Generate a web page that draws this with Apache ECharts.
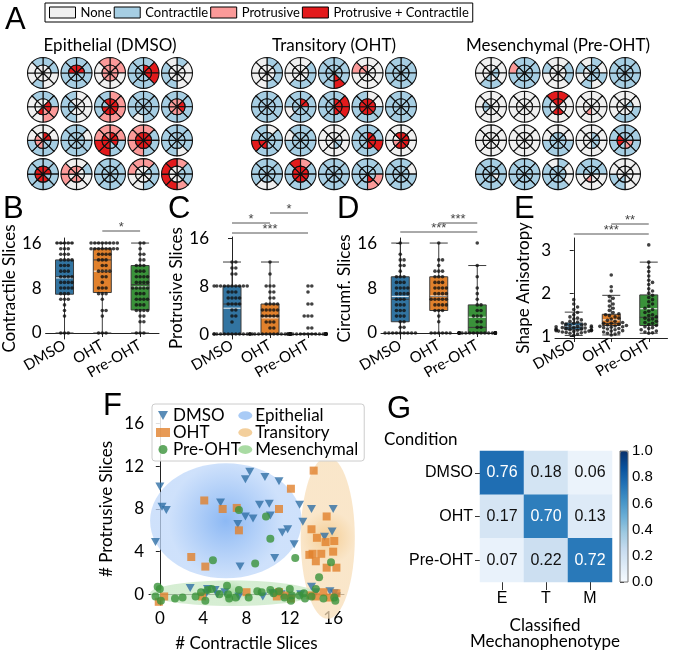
<!DOCTYPE html>
<html><head><meta charset="utf-8">
<script src="https://cdn.jsdelivr.net/npm/echarts@6/dist/echarts.min.js"></script>
<style>html,body{margin:0;padding:0;background:#fff}#c{width:677px;height:654px}</style>
</head><body><div id="c"></div>
<script>
// ================= DATA =================
const sliceCategories = ['None', 'Contractile', 'Protrusive', 'Protrusive + Contractile'];
const glyphTitles = ['Epithelial (DMSO)', 'Transitory (OHT)', 'Mesenchymal (Pre-OHT)'];
// each glyph: 8 outer sectors then 8 inner sectors, clockwise from 12 o'clock
// n = None, c = Contractile, p = Protrusive, b = Protrusive + Contractile
const glyphsEpithelial = [
  'ccnncnnc' + 'nnnnnnnn', 'cccccccc' + 'bbccccbb', 'ppnnnnnp' + 'pppppppp', 'cbbccccc' + 'bbbccccc', 'cnnncccn' + 'nnnnnnnn',
  'ccppnnnc' + 'nbbpbnnn', 'nnnncccc' + 'nnnnnccn', 'pppppccc' + 'bbbbbbcb', 'ccccnccc' + 'cccccccc', 'cccccccc' + 'pbbppppp',
  'nnccccnn' + 'bbccpppn', 'cncccccc' + 'cccccccc', 'ppccbbpp' + 'bbbcbbbp', 'pcccpppp' + 'bbbbbbbb', 'cccncccc' + 'cccccccc',
  'cccccccc' + 'bbcbbbbb', 'ncnnnppn' + 'pnnppnpp', 'cccccccc' + 'cccccccc', 'pcccnnpp' + 'ncnnnnnn', 'pccpbbbb' + 'nccnnnnn'
];
const glyphsTransitory = [
  'ccccnnnn' + 'nnnnnnnn', 'nccccnnn' + 'nnnnnnnn', 'cccbcccc' + 'cccbcccc', 'nnnnnnpn' + 'nnnnnnpp', 'cccccccc' + 'cccccccc',
  'cccccccc' + 'cccccccc', 'cccccncc' + 'bbcccccc', 'cbbccccc' + 'bbbbcccc', 'nncccccc' + 'bbbbbbbb', 'cccccccc' + 'cccccccc',
  'nccccbcc' + 'ccccbbcc', 'ccccccnc' + 'cccccccc', 'nnnnnnnn' + 'nnccnnnn', 'ccbccccc' + 'bbbbcccc', 'nnnnnnnn' + 'bbbbbpnb',
  'cccnnccc' + 'cccccccc', 'pccccccb' + 'bbbbbbbb', 'cccccccc' + 'cccccccc', 'ccppcccc' + 'cccbcccc', 'cncccccc' + 'cccccccc'
];
const glyphsMesenchymal = [
  'nnnccnnn' + 'nccncnnn', 'ccccccpc' + 'cccccccc', 'nccnnncn' + 'nnnnnnnn', 'cncncncn' + 'cccccnnc', 'cccccccc' + 'cccccccc',
  'nnnnnnnn' + 'nnnnnccn', 'nnnnnnnn' + 'nnnnnnnn', 'bnnnnccb' + 'bnnbbnnb', 'nnnnnnnn' + 'nnnnpnnn', 'nncccnnn' + 'ncnnnnnn',
  'nnnnnnnn' + 'nnnnnnnn', 'nnnnnnnn' + 'nnnnnnnn', 'nnccccnn' + 'cccccccc', 'nnnnnnnn' + 'ccccnnnn', 'cccccccc' + 'ccppcbbc',
  'cccccccc' + 'ccnccccc', 'cccccccc' + 'cccccccc', 'cnnccccn' + 'cccccccc', 'ccnnnncc' + 'ccnnpncc', 'nnnnccnn' + 'nnnncnnn'
];

const conditions = ['DMSO', 'OHT', 'Pre-OHT'];

// Box stats [min, Q1, median, Q3, max] and means
const contractileBox = [[0, 6.9, 10, 13, 16], [0, 7.2, 13, 15, 16], [0, 4.1, 8.6, 12, 16]];
const contractileMean = [9.8, 11.0, 8.2];
const contractileDMSO = [0,0,0,3,4,5,6,6,6,7,7,7,8,8,8,8,9,9,9,9,10,10,10,10,11,11,11,12,12,12,13,13,13,13,14,14,14,15,15,15,16,16,16,16,16];
const contractileOHT = [0,0,0,3,4,4,6,7,7,7,8,8,8,9,10,10,11,11,11,11,12,12,13,13,13,14,14,14,14,15,15,15,15,15,15,15,15,16,16,16,16,16,16,16,16];
const contractilePre = [0,0,0,2,2,3,3,4,4,4,4,5,5,5,6,6,6,6,7,7,7,8,8,8,8,8,9,9,9,9,10,10,10,10,11,11,11,12,12,12,13,13,14,14,15,16,16];

const protrusiveBox = [[0, 0, 5, 8, 12], [0, 0, 3, 5, 12], [0, 0, 0, 0, 0]];
const protrusiveMean = [4.3, 2.7, 0.8];
const protrusiveDMSO = [0,0,0,0,0,0,0,0,0,0,0,0,0,0,2,3,3,4,4,5,5,5,5,6,6,6,6,7,7,7,8,8,8,8,8,8,8,8,8,8,10,10,11,11,12,12];
const protrusiveOHT = [0,0,0,0,0,0,0,0,0,0,0,0,1,1,2,2,2,3,3,3,3,3,4,4,4,4,4,5,5,5,5,6,6,7,7,8,8,8,10,12];
const protrusivePre = [0,0,0,0,0,0,0,0,0,0,0,0,0,0,0,0,0,0,0,0,0,0,0,0,0,0,0,0,0,0,0,0,0,1,1,3,3,3,5,5,7,8,8];

const circumfBox = [[0, 2, 6, 10, 16], [0, 4, 6.5, 10, 16], [0, 0, 1, 5, 12]];
const circumfMean = [6.5, 6.6, 2.8];
const circumfDMSO = [0,0,0,0,0,0,0,0,0,1,1,2,2,3,3,3,4,4,4,5,5,5,6,6,6,7,7,7,7,8,8,8,8,9,9,9,10,10,10,11,12,12,13,13,14,16];
const circumfOHT = [0,0,0,0,0,0,2,3,4,4,4,5,5,5,5,6,6,6,6,6,7,7,7,7,8,8,8,8,9,9,9,10,10,10,11,11,11,12,13,13,16];
const circumfPre = [0,0,0,0,0,0,0,0,0,0,0,0,0,0,0,0,0,0,0,0,0,0,0,0,1,1,2,2,3,3,3,4,4,5,5,6,7,8,10,12,16];

const anisoBox = [[1.02, 1.15, 1.2, 1.31, 1.56], [1.03, 1.25, 1.3, 1.51, 1.95], [1.07, 1.25, 1.44, 1.96, 2.72]];
const anisoMean = [1.24, 1.38, 1.64];
const anisoDMSO = [1.02,1.05,1.07,1.08,1.09,1.1,1.1,1.11,1.12,1.12,1.13,1.13,1.14,1.14,1.15,1.15,1.16,1.17,1.17,1.18,1.19,1.2,1.2,1.21,1.22,1.23,1.24,1.25,1.26,1.27,1.28,1.3,1.31,1.33,1.35,1.38,1.4,1.42,1.45,1.5,1.55,1.62,1.68,1.75,1.85];
const anisoOHT = [1.03,1.05,1.07,1.08,1.1,1.12,1.13,1.15,1.17,1.18,1.2,1.21,1.22,1.23,1.24,1.25,1.26,1.28,1.3,1.3,1.32,1.35,1.37,1.4,1.42,1.45,1.48,1.5,1.52,1.55,1.6,1.65,1.7,1.75,1.82,1.88,1.92,2.05,2.15,2.42];
const anisoPre = [1.07,1.08,1.1,1.12,1.15,1.18,1.2,1.22,1.25,1.27,1.3,1.32,1.35,1.38,1.4,1.42,1.45,1.48,1.5,1.55,1.58,1.62,1.65,1.7,1.75,1.8,1.85,1.9,1.95,2.0,2.05,2.1,2.2,2.25,2.3,2.4,2.5,2.6,2.72,3.12];

// significance bars: [fromIndex, toIndex, label, level]
const contractileSig = [[1, 2, '*', 0.3]];
const protrusiveSig = [[0, 2, '***', 0], [0, 1, '*', 1], [1, 2, '*', 2]];
const circumfSig = [[0, 2, '***', 0.2], [1, 2, '***', 1.1]];
const anisoSig = [[0, 2, '***', 0], [1, 2, '**', 1]];

// Panel F scatter: [contractile slices, protrusive slices]
const scatterDMSO = [[0,10.1],[0.2,8.2],[0.6,7.9],[-0.4,4.9],[5.6,8.6],[7.9,10.8],[8.3,11.5],[9.7,11.0],[11.0,10.6],[9.2,8.4],[10.1,8.5],[10.2,7.4],[7.9,7.3],[8.6,7.1],[7.2,6.6],[11.3,5.8],[11.8,6.1],[12.4,4.7],[10.6,3.4],[7.4,2.6],[12.9,8.4],[13.2,6.8],[14.0,8.0],[16.0,8.0],[15.9,5.9],[15.2,5.4],[2.8,0.6],[4.4,0.5],[4.3,0.1],[5.1,0.4],[5.3,0.0],[7.3,-0.2],[9.5,-0.2],[10.4,0.1],[11.2,0.0],[14.0,0.7],[14.4,0.2],[15.7,0.3],[16.1,0.1],[16.3,-0.2],[12.0,-0.3],[6.0,0.2],[13.0,0.0]];
const scatterOHT = [[-0.1,-0.7],[0.4,-0.2],[2.9,3.5],[4.2,2.6],[4.1,8.8],[5.8,8.0],[7.1,8.1],[7.3,6.0],[11.0,8.0],[12.1,9.9],[14.2,11.6],[14.0,6.1],[15.4,7.3],[14.5,5.3],[15.3,4.9],[16.1,5.0],[13.8,3.7],[14.1,3.8],[14.4,3.1],[14.9,3.8],[16.0,4.0],[15.4,2.5],[16.3,2.5],[3.9,-0.2],[8.0,0.2],[11.0,0.2],[11.6,-0.1],[14.4,-0.2],[15.1,0.2],[15.7,-0.3],[16.3,0.1],[13.9,-0.1],[12.1,-0.4],[10.8,-0.2]];
const scatterPre = [[-0.2,0.7],[0,0.5],[-0.4,-0.2],[0.1,-0.6],[1.4,-0.4],[2.1,-0.3],[3.3,-0.2],[3.8,0.2],[4.4,0.4],[4.8,0.5],[4.2,-0.6],[4.9,3.2],[5.5,0.0],[6.2,0.8],[6.3,0.0],[6.4,-0.4],[7.3,7.9],[7.3,0.4],[8.2,-0.3],[8.8,2.9],[9.4,0.2],[9.8,7.3],[10.2,5.2],[10.2,0.4],[10.5,0.1],[11.0,0.3],[12.0,0.5],[12.2,-0.1],[12.1,-0.6],[12.5,3.4],[12.9,-0.1],[13.3,0.1],[13.4,-0.4],[14.4,0.5],[14.7,1.6],[15.1,-0.4],[15.8,3.0],[16.1,-0.3],[16.2,-0.6],[7.0,-0.3],[9.0,0.3],[11.5,-0.3],[14.0,-0.2]];
// phenotype regions: [centre x, centre y, radius x, radius y]
const regionNames = ['Epithelial', 'Transitory', 'Mesenchymal'];
const regionEpithelial = [6.1, 6.9, 7.0, 5.4];
const regionTransitory = [15.5, 5.3, 2.5, 7.6];
const regionMesenchymal = [6.7, 0.1, 7.6, 1.2];
const axisTicksF = [0, 4, 8, 12, 16];

// Panel G confusion matrix
const classLabels = ['E', 'T', 'M'];
const confusion = [[0.76, 0.18, 0.06], [0.17, 0.70, 0.13], [0.07, 0.22, 0.72]];

// ================= STYLE / LAYOUT =================
const MY = 'Lato, "Noto Sans", sans-serif';
const AR = '"Liberation Sans", Arial, sans-serif';
const sliceColors = { n: '#f0f0f0', c: '#a6cee3', p: '#fb9a99', b: '#e31a1c' };
const sliceName = { n: sliceCategories[0], c: sliceCategories[1], p: sliceCategories[2], b: sliceCategories[3] };
const boxColors = ['#3274a1', '#e1812c', '#3a923a'];

const option = {
  animation: false,
  backgroundColor: '#fff',
  grid: [], xAxis: [], yAxis: [], series: [], legend: [], graphic: []
};

// ---------- Panel A glyphs ----------
const glyphSets = [glyphsEpithelial, glyphsTransitory, glyphsMesenchymal];
const panelX0 = [43, 267, 491], stepX = 33.5, rowY0 = 73, stepY = 33.7;
const rIn = 8, rOut = 15.5;
glyphSets.forEach((set, pi) => {
  set.forEach((code, gi) => {
    const cx = panelX0[pi] + (gi % 5) * stepX;
    const cy = rowY0 + Math.floor(gi / 5) * stepY;
    [[code.slice(0, 8), [rIn, rOut]], [code.slice(8), [0, rIn]]].forEach(([ring, radius]) => {
      option.series.push({
        type: 'pie', center: [cx, cy], radius: radius, startAngle: 90, clockwise: true,
        silent: true, label: { show: false }, labelLine: { show: false }, avoidLabelOverlap: false,
        itemStyle: { borderColor: '#111', borderWidth: 1.1 },
        emphasis: { disabled: true },
        data: ring.split('').map(ch => ({ name: sliceName[ch], value: 1, itemStyle: { color: sliceColors[ch] } }))
      });
    });
  });
});
option.legend.push({
  data: sliceCategories, left: 45, top: 3, orient: 'horizontal',
  itemWidth: 26, itemHeight: 11, itemGap: 2, padding: [3, 4, 3, 4],
  borderColor: '#000', borderWidth: 1, selectedMode: false, icon: 'rect',
  itemStyle: { borderColor: '#000', borderWidth: 1 },
  textStyle: { fontFamily: MY, fontSize: 13, color: '#000' }
});
glyphTitles.forEach((t, i) => {
  option.graphic.push({ type: 'text', x: panelX0[i] + 2 * stepX, y: 46,
    style: { text: t, font: '17px ' + MY, fill: '#000', align: 'center', verticalAlign: 'middle' } });
});

// ---------- Panels B–E boxplots ----------
const boxPanels = [
  { grid: { left: 44, top: 238, width: 115, height: 101 }, min: -1.07, max: 16.9, ticks: [0, 8, 16], name: 'Contractile Slices', nameGap: 26,
    box: contractileBox, mean: contractileMean, dots: [contractileDMSO, contractileOHT, contractilePre], sig: contractileSig },
  { grid: { left: 213, top: 237, width: 114, height: 102 }, min: -0.83, max: 16.17, ticks: [0, 8, 16], name: 'Protrusive Slices', nameGap: 25,
    box: protrusiveBox, mean: protrusiveMean, dots: [protrusiveDMSO, protrusiveOHT, protrusivePre], sig: protrusiveSig },
  { grid: { left: 381, top: 238, width: 115.5, height: 101 }, min: -1.07, max: 16.9, ticks: [0, 8, 16], name: 'Circumf. Slices', nameGap: 28,
    box: circumfBox, mean: circumfMean, dots: [circumfDMSO, circumfOHT, circumfPre], sig: circumfSig },
  { grid: { left: 555, top: 238, width: 112.5, height: 100 }, min: 0.96, max: 3.28, ticks: [1, 2, 3], name: 'Shape Anisotropy', nameGap: 23,
    box: anisoBox, mean: anisoMean, dots: [anisoDMSO, anisoOHT, anisoPre], sig: anisoSig }
];

function swarm(values, cat, pxPerX, pxPerY, d, maxHalf) {
  const placed = [], out = [];
  const sorted = values.slice().sort((a, b) => a - b);
  let overflow = 0;
  sorted.forEach(v => {
    const y = v * pxPerY;
    let off = null;
    for (let k = 0; k < 400; k++) {
      const o = k === 0 ? 0 : (k % 2 ? 1 : -1) * Math.ceil(k / 2) * d * 0.5;
      if (Math.abs(o) > maxHalf) break;
      if (placed.every(p => (p[0] - o) ** 2 + (p[1] - y) ** 2 >= d * d * 0.98)) { off = o; break; }
    }
    if (off === null) { off = (overflow % 2 ? -1 : 1) * maxHalf; overflow++; }
    placed.push([off, y]);
    out.push([cat + off / pxPerX, v]);
  });
  return out;
}

boxPanels.forEach((P, i) => {
  option.grid.push(P.grid);
  const band = P.grid.width / 3, pxY = P.grid.height / (P.max - P.min);
  option.xAxis.push({
    type: 'category', gridIndex: i, data: conditions,
    axisLine: { lineStyle: { color: '#222', width: 1 } },
    axisTick: { show: true, alignWithLabel: true, length: 4, lineStyle: { color: '#222' } },
    axisLabel: { rotate: 30, interval: 0, hideOverlap: false, fontFamily: MY, fontSize: 15, color: '#000', margin: 5 }
  });
  option.xAxis.push({ type: 'value', gridIndex: i, min: -0.5, max: 2.5, show: false });
  option.yAxis.push({
    type: 'value', gridIndex: i, min: P.min, max: P.max,
    name: P.name, nameLocation: 'middle', nameGap: P.nameGap, nameRotate: 90,
    nameTextStyle: { fontFamily: MY, fontSize: 17, color: '#000' },
    axisLine: { show: true, lineStyle: { color: '#222', width: 1 } },
    axisTick: { show: true, length: 4, customValues: P.ticks, lineStyle: { color: '#222' } },
    axisLabel: { customValues: P.ticks, fontFamily: MY, fontSize: 17, color: '#000', margin: 4 },
    splitLine: { show: false }
  });
  const xi = i * 2, xv = i * 2 + 1;
  option.series.push({
    type: 'boxplot', xAxisIndex: xi, yAxisIndex: i, boxWidth: [18, 18], silent: true, z: 2,
    itemStyle: { borderColor: '#3d3d3d', borderWidth: 1 },
    data: P.box.map((b, k) => ({ value: b, itemStyle: { color: boxColors[k] } }))
  });
  option.series.push({
    type: 'custom', xAxisIndex: xv, yAxisIndex: i, silent: true, z: 3,
    data: P.mean.map((m, k) => [k, m]),
    renderItem: (params, api) => {
      const c = api.coord([api.value(0), api.value(1)]);
      return { type: 'line', shape: { x1: c[0] - 8.5, y1: c[1], x2: c[0] + 8.5, y2: c[1] },
        style: { stroke: 'rgba(255,255,255,0.8)', lineWidth: 1.2 } };
    }
  });
  let dots = [];
  P.dots.forEach((vals, k) => { dots = dots.concat(swarm(vals, k, band, pxY, 3.8, band * 0.47)); });
  option.series.push({
    type: 'scatter', xAxisIndex: xv, yAxisIndex: i, silent: true, z: 5,
    symbol: 'circle', symbolSize: 3.6, itemStyle: { color: '#111' }, data: dots
  });
  option.series.push({
    type: 'custom', xAxisIndex: xv, yAxisIndex: i, silent: true, z: 6, clip: false,
    data: P.sig.map(s => [s[0], s[1], s[3]]),
    renderItem: (params, api) => {
      const a = api.coord([api.value(0), P.max]), b = api.coord([api.value(1), P.max]);
      const y = a[1] - 4 - 10 * api.value(2);
      return { type: 'group', children: [
        { type: 'line', shape: { x1: a[0], y1: y, x2: b[0], y2: y }, style: { stroke: '#555', lineWidth: 1 } },
        { type: 'text', x: (a[0] + b[0]) / 2, y: y + 3,
          style: { text: P.sig[params.dataIndex][2], font: '13px ' + AR, fill: '#444', align: 'center', verticalAlign: 'bottom' } }
      ] };
    }
  });
});

// ---------- Panel F scatter ----------
const gF = option.grid.length;
option.grid.push({ left: 149, top: 413, width: 195, height: 192 });
const xF = option.xAxis.length, yF = option.yAxis.length;
option.xAxis.push({
  type: 'value', gridIndex: gF, min: -1, max: 17,
  name: '# Contractile Slices', nameLocation: 'middle', nameGap: 30,
  nameTextStyle: { fontFamily: MY, fontSize: 17, color: '#000' },
  axisLine: { show: true, lineStyle: { color: '#222' } },
  axisTick: { show: true, length: 4, customValues: axisTicksF, lineStyle: { color: '#222' } },
  axisLabel: { customValues: axisTicksF, fontFamily: MY, fontSize: 17, color: '#000', margin: 5 },
  splitLine: { show: false }
});
option.yAxis.push({
  type: 'value', gridIndex: gF, min: -1, max: 17,
  name: '# Protrusive Slices', nameLocation: 'middle', nameGap: 34, nameRotate: 90,
  nameTextStyle: { fontFamily: MY, fontSize: 17, color: '#000' },
  axisLine: { show: true, lineStyle: { color: '#222' } },
  axisTick: { show: true, length: 4, customValues: axisTicksF, lineStyle: { color: '#222' } },
  axisLabel: { customValues: axisTicksF, fontFamily: MY, fontSize: 17, color: '#000', margin: 5 },
  splitLine: { show: false }
});
const regionStyles = [
  ['rgba(120,172,242,0.85)', 'rgba(190,215,250,0.75)', '#a9cbf6'],
  ['rgba(242,196,128,0.85)', 'rgba(248,222,184,0.75)', '#f3cf9c'],
  ['rgba(150,210,145,0.85)', 'rgba(200,232,196,0.75)', '#a9dba3']
];
[regionEpithelial, regionTransitory, regionMesenchymal].forEach((r, k) => {
  option.series.push({
    type: 'custom', name: regionNames[k], xAxisIndex: xF, yAxisIndex: yF, silent: true, z: 1, clip: false,
    itemStyle: { color: regionStyles[k][2] },
    data: [r],
    renderItem: (params, api) => {
      const c = api.coord([api.value(0), api.value(1)]);
      const s = api.size([api.value(2), api.value(3)]);
      return { type: 'ellipse', shape: { cx: c[0], cy: c[1], rx: s[0], ry: s[1] },
        style: { fill: new echarts.graphic.RadialGradient(0.5, 0.5, 0.5, [
          { offset: 0, color: regionStyles[k][0] }, { offset: 1, color: regionStyles[k][1] }]) } };
    }
  });
});
const triDown = 'path://M0,0 L10,0 L5,9 Z';
option.series.push({ type: 'scatter', name: 'DMSO', xAxisIndex: xF, yAxisIndex: yF, z: 3, silent: true,
  symbol: triDown, symbolSize: [9, 8], itemStyle: { color: '#2f6fa5' }, data: scatterDMSO });
option.series.push({ type: 'scatter', name: 'OHT', xAxisIndex: xF, yAxisIndex: yF, z: 3, silent: true,
  symbol: 'rect', symbolSize: 8, itemStyle: { color: '#e1812c' }, data: scatterOHT });
option.series.push({ type: 'scatter', name: 'Pre-OHT', xAxisIndex: xF, yAxisIndex: yF, z: 3, silent: true,
  symbol: 'circle', symbolSize: 8, itemStyle: { color: '#3a923a' }, data: scatterPre });
const ellIcon = 'path://M0,5 A8,5 0 1,0 16,5 A8,5 0 1,0 0,5 Z';
option.legend.push({
  orient: 'vertical', left: 152, top: 404, height: 51, itemGap: 0, itemWidth: 14, itemHeight: 9,
  padding: [3, 6, 3, 4], borderColor: '#ccc', borderWidth: 1, borderRadius: 3,
  backgroundColor: 'rgba(255,255,255,0.85)', selectedMode: false,
  textStyle: { fontFamily: MY, fontSize: 17, color: '#000', lineHeight: 17, padding: [0, 0, 0, -2] },
  data: [
    { name: 'DMSO', icon: triDown }, { name: 'OHT', icon: 'rect' }, { name: 'Pre-OHT', icon: 'circle' },
    { name: regionNames[0], icon: ellIcon, itemStyle: { color: regionStyles[0][2] } },
    { name: regionNames[1], icon: ellIcon, itemStyle: { color: regionStyles[1][2] } },
    { name: regionNames[2], icon: ellIcon, itemStyle: { color: regionStyles[2][2] } }
  ]
});

// ---------- Panel G heatmap ----------
const gG = option.grid.length;
option.grid.push({ left: 480, top: 451, width: 132, height: 131 });
const xG = option.xAxis.length, yG = option.yAxis.length;
option.xAxis.push({ type: 'category', gridIndex: gG, data: classLabels,
  axisLine: { show: false }, splitArea: { show: false },
  axisTick: { show: true, alignWithLabel: true, length: 8, lineStyle: { color: '#333' } },
  axisLabel: { fontFamily: AR, fontSize: 16, color: '#000', margin: 9 } });
option.yAxis.push({ type: 'category', gridIndex: gG, data: conditions, inverse: true,
  axisLine: { show: false },
  axisTick: { show: true, alignWithLabel: true, length: 5, lineStyle: { color: '#333' } },
  axisLabel: { fontFamily: AR, fontSize: 16, color: '#000', margin: 7 } });
const heatData = [];
confusion.forEach((row, r) => row.forEach((v, c) => heatData.push({
  value: [c, r, v], label: { color: v > 0.5 ? '#fff' : '#111' } })));
const heatIdx = option.series.length;
option.series.push({ type: 'heatmap', xAxisIndex: xG, yAxisIndex: yG, silent: true, data: heatData,
  label: { show: true, fontFamily: AR, fontSize: 16, formatter: p => p.value[2].toFixed(2) } });
// colorbar axis
const gC = option.grid.length;
option.grid.push({ left: 620, top: 451, width: 8, height: 131, show: true, borderColor: '#777', borderWidth: 1, backgroundColor: 'transparent', z: 10 });
option.xAxis.push({ type: 'value', gridIndex: gC, show: false, min: 0, max: 1 });
option.yAxis.push({ type: 'value', gridIndex: gC, position: 'right', min: 0, max: 1, interval: 0.2,
  axisLine: { show: false }, splitLine: { show: false },
  axisTick: { show: true, length: 4, lineStyle: { color: '#333' } },
  axisLabel: { fontFamily: AR, fontSize: 15, color: '#000', margin: 4, formatter: v => v.toFixed(1) } });
option.visualMap = {
  type: 'continuous', min: 0, max: 1, seriesIndex: heatIdx, orient: 'vertical',
  left: 620, top: 451, padding: 0, itemWidth: 8, itemHeight: 131, calculable: false, text: null, showLabel: false,
  inRange: { color: ['#f7fbff', '#deebf7', '#c6dbef', '#9ecae1', '#6baed6', '#4292c6', '#2171b5', '#08519c', '#08306b'] }
};

// ---------- annotation texts ----------
[['A', 5, 5], ['B', 3, 194], ['C', 168, 194], ['D', 337, 194], ['E', 514, 194], ['F', 103, 391], ['G', 387, 394]].forEach(([t, x, y]) => {
  option.graphic.push({ type: 'text', x: x, y: y, style: { text: t, font: '31px ' + AR, fill: '#000', align: 'left', verticalAlign: 'top' } });
});
option.graphic.push({ type: 'text', x: 384, y: 440, style: { text: 'Condition', font: '17px ' + MY, fill: '#000', align: 'left', verticalAlign: 'middle' } });
option.graphic.push({ type: 'text', x: 545, y: 626, style: { text: 'Classified', font: '17px ' + MY, fill: '#000', align: 'center', verticalAlign: 'middle' } });
option.graphic.push({ type: 'text', x: 545, y: 642, style: { text: 'Mechanophenotype', font: '17px ' + MY, fill: '#000', align: 'center', verticalAlign: 'middle' } });

const chart = echarts.init(document.getElementById('c'));
chart.setOption(option);
</script></body></html>
